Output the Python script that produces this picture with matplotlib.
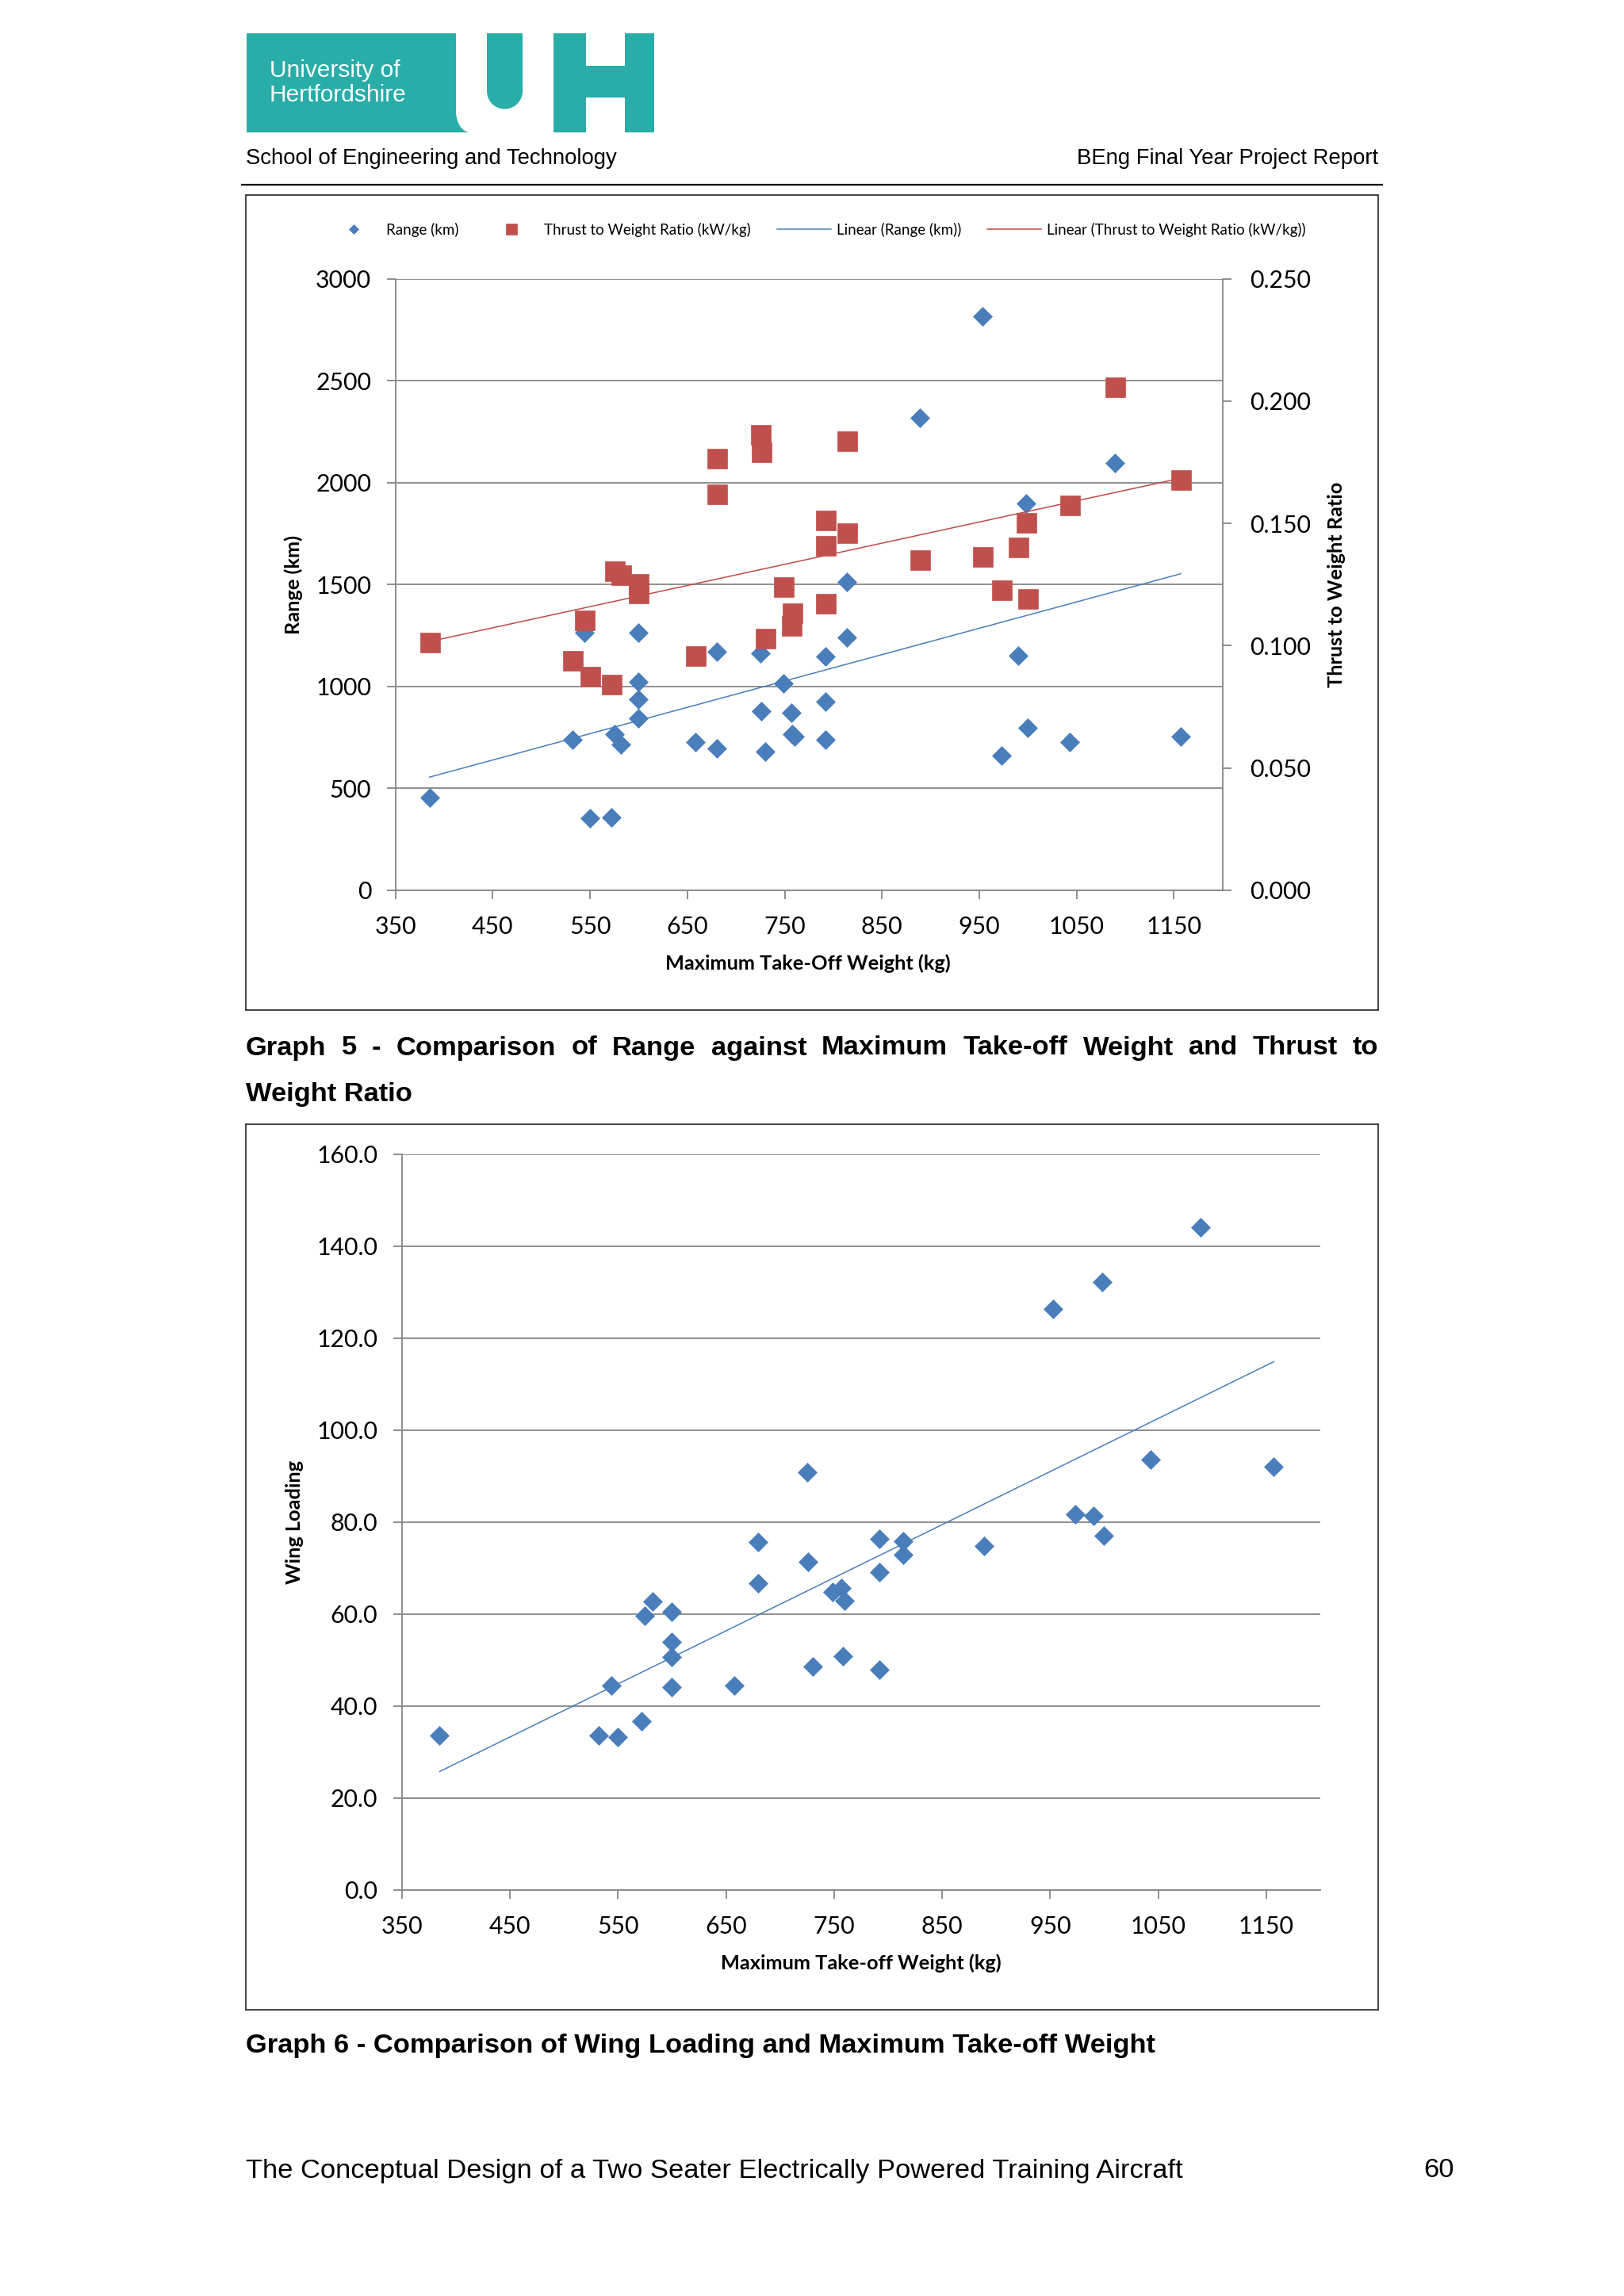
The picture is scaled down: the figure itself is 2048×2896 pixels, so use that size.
import numpy as np
import matplotlib.pyplot as plt
from matplotlib.patches import Rectangle, Circle, Polygon

nan = np.nan

# values (one entry per aircraft)
mtow = [385, 532, 544, 550, 572, 575, 582, 600, 600, 600, 600, 658, 680, 680,
        725, 726, 730, 749, 757, 758, 760, 792, 792, 792, 814, 814, 889, 953,
        973, 990, 998, 1000, 1043, 1089, 1157]
range_km = [453, 740, 1262, 354, 356, 765, 716, 1265, 1022, 935, 845, 725, 1172, 694,
            1163, 877, 680, 1014, 870, 767, 754, 1145, 926, 738, 1514, 1240, 2317, 2815,
            660, 1150, 1896, 797, 725, 2095, 754]
twr = [0.1013, 0.0939, 0.1105, 0.0874, 0.0842, 0.1307, 0.1291, 0.1253, 0.1216, nan, nan,
       0.0958, 0.1766, 0.1620, 0.1863, 0.1793, 0.1029, 0.1242, 0.1083, 0.1134, nan,
       0.1512, 0.1410, 0.1172, 0.1839, 0.1460, 0.1350, 0.1364, 0.1227, 0.1404, 0.1503,
       0.1192, 0.1575, 0.2058, 0.1678]
wing_loading = [33.6, 33.7, 44.4, 33.3, 36.8, 59.6, 62.8, 60.5, 54.0, 50.7, 44.2, 44.5,
                75.7, 66.8, 90.8, 71.4, 48.7, 64.8, 65.6, 50.9, 62.9, 76.4, 69.2, 47.9,
                75.8, 72.9, 74.8, 126.3, 81.8, 81.4, 132.2, 77.0, 93.6, 144.2, 92.0]

x_ticks = [350, 450, 550, 650, 750, 850, 950, 1050, 1150]
range_ticks = [0, 500, 1000, 1500, 2000, 2500, 3000]
twr_ticks = [0.0, 0.05, 0.10, 0.15, 0.20, 0.25]
wl_ticks = [0, 20, 40, 60, 80, 100, 120, 140, 160]

BLUE = '#4A7EBB'
RED = '#C0504D'
GRID = '#868686'
TEAL = '#28ADA9'
CHART_FONT = ['Lato', 'DejaVu Sans']
PAGE_FONT = ['Liberation Sans', 'DejaVu Sans']
TICK_SIZE = 21.8
LABEL_SIZE = 18.3


def trend(x, y):
    x = np.asarray(x, float)
    y = np.asarray(y, float)
    ok = ~np.isnan(y)
    k, c = np.polyfit(x[ok], y[ok], 1)
    xs = np.array([x[ok].min(), x[ok].max()])
    return xs, k * xs + c


def style_axis(ax, ticks_y, fmt):
    ax.set_xlim(350, 1200)
    ax.set_xticks(x_ticks)
    ax.set_yticks(ticks_y)
    ax.set_yticklabels([fmt.format(t) for t in ticks_y])
    ax.tick_params(axis='both', direction='out', length=8, width=1.3, color=GRID,
                   labelsize=TICK_SIZE, labelcolor='black')
    ax.tick_params(axis='y', pad=14)
    ax.tick_params(axis='x', pad=15)
    for lab in ax.get_xticklabels() + ax.get_yticklabels():
        lab.set_family(CHART_FONT)
    for side in ['top', 'right']:
        ax.spines[side].set_visible(False)
    for side in ['left', 'bottom']:
        ax.spines[side].set_color(GRID)
        ax.spines[side].set_linewidth(1.3)
    ax.yaxis.grid(True, color=GRID, linewidth=1.3)
    ax.set_axisbelow(True)


fig = plt.figure(figsize=(20.48, 28.96), dpi=100)

# page layer in pixel coordinates
page = fig.add_axes([0, 0, 1, 1])
page.set_xlim(0, 2048)
page.set_ylim(2896, 0)
page.axis('off')

# logo
page.add_patch(Rectangle((311, 42), 264, 125, color=TEAL, lw=0))
arc = np.linspace(0, np.pi / 2, 20)
page.add_patch(Polygon([(575, 140)] + [(575 + 18 * (1 - np.cos(a)), 140 + 27 * np.sin(a)) for a in arc]
                       + [(575, 167)], color=TEAL, lw=0))
page.add_patch(Rectangle((614, 42), 45, 73, color=TEAL, lw=0))
page.add_patch(Circle((636.5, 115), 22.5, color=TEAL, lw=0))
page.add_patch(Rectangle((698, 42), 41, 125, color=TEAL, lw=0))
page.add_patch(Rectangle((787.5, 42), 37.5, 125, color=TEAL, lw=0))
page.add_patch(Rectangle((738, 83), 50.5, 40, color=TEAL, lw=0))
page.text(340, 89, 'University of', color='white', fontsize=21.5,
          family=PAGE_FONT, va='center')
page.text(340, 120, 'Hertfordshire', color='white', fontsize=21.5,
          family=PAGE_FONT, va='center')

page.text(310, 200, 'School of Engineering and Technology', fontsize=19.8,
          family=PAGE_FONT, va='center')
page.text(1738, 200, 'BEng Final Year Project Report', fontsize=19.8,
          family=PAGE_FONT, va='center', ha='right')
page.plot([305, 1743], [233, 233], color='black', lw=1.6)

# chart frames
page.add_patch(Rectangle((310, 246), 1428, 1028, fill=False, ec='#222222', lw=1.2))
page.add_patch(Rectangle((310, 1418), 1428, 1117, fill=False, ec='#222222', lw=1.2))

# ---- Graph 5 ----
ax1 = fig.add_axes([0.2435, 0.61229, 0.5093, 0.26627])
ax1.set_ylim(0, 3000)
style_axis(ax1, range_ticks, '{:.0f}')
d1, = ax1.plot(mtow, range_km, 'D', color=BLUE, ms=12, mec=BLUE, mew=0.5,
               label='Range (km)', zorder=3)
tx, ty = trend(mtow, range_km)
l1, = ax1.plot(tx, ty, color=BLUE, lw=1.1, label='Linear (Range (km))', zorder=2)

ax1b = ax1.twinx()
ax1b.set_ylim(0, 0.25)
ax1b.set_yticks(twr_ticks)
ax1b.set_yticklabels(['{:.3f}'.format(t) for t in twr_ticks])
ax1b.tick_params(axis='y', direction='out', length=8, width=1.3, color=GRID,
                 labelsize=TICK_SIZE, pad=17)
for lab in ax1b.get_yticklabels():
    lab.set_family(CHART_FONT)
for side in ['top', 'left', 'bottom']:
    ax1b.spines[side].set_visible(False)
ax1b.spines['right'].set_color(GRID)
ax1b.spines['right'].set_linewidth(1.3)
s1, = ax1b.plot(mtow, twr, 's', color=RED, ms=18, mec=RED, mew=0.5,
                label='Thrust to Weight Ratio (kW/kg)', zorder=3)
tx, ty = trend(mtow, twr)
l2, = ax1b.plot(tx, ty, color='#BE4B48', lw=1.1,
                label='Linear (Thrust to Weight Ratio (kW/kg))', zorder=2)

ax1.text(-0.1233, 0.5, 'Range (km)', transform=ax1.transAxes, rotation=90,
         ha='center', va='center', fontsize=LABEL_SIZE, fontweight='bold', family=CHART_FONT)
ax1.text(1.138, 0.5, 'Thrust to Weight Ratio', transform=ax1.transAxes, rotation=90,
         ha='center', va='center', fontsize=LABEL_SIZE, fontweight='bold', family=CHART_FONT)
ax1.text(0.499, -0.1196, 'Maximum Take-Off Weight (kg)', transform=ax1.transAxes,
         ha='center', va='center', fontsize=LABEL_SIZE, fontweight='bold', family=CHART_FONT)

fig.legend(handles=[d1, s1, l1, l2], loc='center', bbox_to_anchor=(0.5027, 0.8999),
           ncol=4, frameon=False, markerscale=0.55, handlelength=3.6,
           handletextpad=0.4, columnspacing=1.75, prop={'family': CHART_FONT, 'size': 13.5})

# ---- Graph 6 ----
ax2 = fig.add_axes([0.24746, 0.17680, 0.56553, 0.32047])
ax2.set_ylim(0, 160)
style_axis(ax2, wl_ticks, '{:.1f}')
ax2.plot(mtow, wing_loading, 'D', color=BLUE, ms=12, mec=BLUE, mew=0.5, zorder=3)
tx, ty = trend(mtow, wing_loading)
ax2.plot(tx, ty, color=BLUE, lw=1.1, zorder=2)
ax2.text(-0.1166, 0.5, 'Wing Loading', transform=ax2.transAxes, rotation=90,
         ha='center', va='center', fontsize=LABEL_SIZE, fontweight='bold', family=CHART_FONT)
ax2.text(0.5, -0.0997, 'Maximum Take-off Weight (kg)', transform=ax2.transAxes,
         ha='center', va='center', fontsize=LABEL_SIZE, fontweight='bold', family=CHART_FONT)

# captions, first line justified across the text block
words = 'Graph 5 - Comparison of Range against Maximum Take-off Weight and Thrust to'.split()
arts = [page.text(0, 1322, w, fontsize=24.8, fontweight='bold', family=PAGE_FONT,
                  va='center') for w in words]
fig.canvas.draw()
renderer = fig.canvas.get_renderer()
inv = page.transData.inverted()
widths = []
for a in arts:
    bb = a.get_window_extent(renderer)
    widths.append(inv.transform((bb.x1, 0))[0] - inv.transform((bb.x0, 0))[0])
gap = (1738 - 310 - sum(widths)) / (len(words) - 1)
x = 310
for a, w in zip(arts, widths):
    a.set_x(x)
    x += w + gap
page.text(310, 1381, 'Weight Ratio', fontsize=24.8, fontweight='bold',
          family=PAGE_FONT, va='center')
page.text(310, 2580, 'Graph 6 - Comparison of Wing Loading and Maximum Take-off Weight',
          fontsize=24.8, fontweight='bold', family=PAGE_FONT, va='center')

# footer
page.text(310, 2738, 'The Conceptual Design of a Two Seater Electrically Powered Training Aircraft',
          fontsize=24.8, family=PAGE_FONT, va='center')
page.text(1834, 2738, '60', fontsize=24.8, family=PAGE_FONT, va='center', ha='right')

fig.savefig('out.png', dpi=100)
